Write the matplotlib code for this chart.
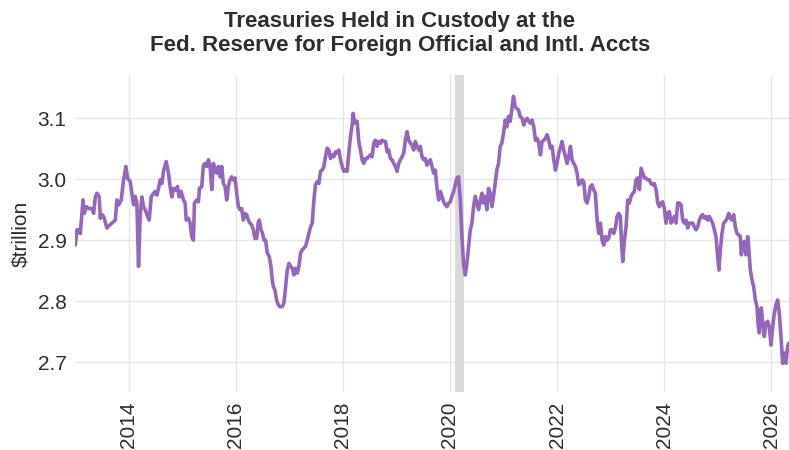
import matplotlib
matplotlib.use("Agg")
import matplotlib.pyplot as plt
import numpy as np

plt.rcParams['font.family'] = ['Liberation Sans', 'DejaVu Sans']

# Decimal-year dates and values ($ trillion)
years = [
    2013.006, 2013.037, 2013.068, 2013.099, 2013.130, 2013.149, 2013.174, 2013.211, 2013.255, 2013.317,
    2013.348, 2013.379, 2013.410, 2013.453, 2013.472, 2013.503, 2013.534, 2013.596, 2013.627, 2013.689,
    2013.752, 2013.783, 2013.814, 2013.863, 2013.907, 2013.950, 2013.981, 2014.031, 2014.062, 2014.093,
    2014.124, 2014.155, 2014.186, 2014.217, 2014.248, 2014.280, 2014.311, 2014.354, 2014.385, 2014.422,
    2014.466, 2014.497, 2014.528, 2014.559, 2014.590, 2014.621, 2014.652, 2014.702, 2014.745, 2014.776,
    2014.807, 2014.839, 2014.882, 2014.913, 2014.944, 2014.981, 2015.025, 2015.056, 2015.075, 2015.118,
    2015.149, 2015.180, 2015.211, 2015.230, 2015.273, 2015.304, 2015.323, 2015.366, 2015.398, 2015.429,
    2015.460, 2015.491, 2015.522, 2015.553, 2015.584, 2015.615, 2015.646, 2015.677, 2015.708, 2015.739,
    2015.770, 2015.801, 2015.832, 2015.863, 2015.894, 2015.925, 2015.957, 2015.988, 2016.019, 2016.050,
    2016.081, 2016.112, 2016.143, 2016.174, 2016.205, 2016.236, 2016.267, 2016.298, 2016.329, 2016.360,
    2016.391, 2016.422, 2016.441, 2016.472, 2016.503, 2016.528, 2016.559, 2016.590, 2016.627, 2016.658,
    2016.683, 2016.702, 2016.733, 2016.764, 2016.795, 2016.826, 2016.870, 2016.901, 2016.932, 2016.963,
    2016.994, 2017.025, 2017.056, 2017.087, 2017.118, 2017.149, 2017.180, 2017.211, 2017.242, 2017.273,
    2017.304, 2017.335, 2017.366, 2017.398, 2017.429, 2017.460, 2017.491, 2017.522, 2017.553, 2017.584,
    2017.615, 2017.646, 2017.677, 2017.708, 2017.739, 2017.770, 2017.801, 2017.832, 2017.863, 2017.894,
    2017.925, 2017.957, 2017.988, 2018.019, 2018.050, 2018.081, 2018.112, 2018.143, 2018.174, 2018.193,
    2018.217, 2018.242, 2018.267, 2018.298, 2018.329, 2018.360, 2018.391, 2018.422, 2018.453, 2018.484,
    2018.516, 2018.547, 2018.578, 2018.609, 2018.640, 2018.671, 2018.702, 2018.733, 2018.764, 2018.795,
    2018.826, 2018.857, 2018.888, 2018.919, 2018.950, 2018.981, 2019.012, 2019.043, 2019.075, 2019.106,
    2019.137, 2019.168, 2019.199, 2019.230, 2019.261, 2019.292, 2019.323, 2019.354, 2019.385, 2019.416,
    2019.447, 2019.478, 2019.509, 2019.540, 2019.571, 2019.602, 2019.634, 2019.665, 2019.696, 2019.727,
    2019.758, 2019.789, 2019.820, 2019.851, 2019.882, 2019.913, 2019.944, 2019.975, 2020.006, 2020.037,
    2020.068, 2020.099, 2020.130, 2020.161, 2020.193, 2020.224, 2020.255, 2020.286, 2020.317, 2020.348,
    2020.379, 2020.410, 2020.441, 2020.472, 2020.503, 2020.534, 2020.565, 2020.596, 2020.627, 2020.658,
    2020.689, 2020.720, 2020.752, 2020.783, 2020.814, 2020.845, 2020.876, 2020.907, 2020.938, 2020.969,
    2021.000, 2021.031, 2021.062, 2021.093, 2021.124, 2021.155, 2021.186, 2021.217, 2021.248, 2021.280,
    2021.311, 2021.347, 2021.378, 2021.409, 2021.440, 2021.471, 2021.502, 2021.533, 2021.565, 2021.596,
    2021.627, 2021.658, 2021.689, 2021.720, 2021.751, 2021.782, 2021.813, 2021.844, 2021.876, 2021.907,
    2021.938, 2021.969, 2022.000, 2022.031, 2022.062, 2022.093, 2022.124, 2022.156, 2022.187, 2022.218,
    2022.249, 2022.280, 2022.311, 2022.342, 2022.373, 2022.404, 2022.435, 2022.467, 2022.498, 2022.529,
    2022.560, 2022.591, 2022.622, 2022.653, 2022.684, 2022.715, 2022.747, 2022.778, 2022.809, 2022.840,
    2022.871, 2022.902, 2022.933, 2022.964, 2022.995, 2023.026, 2023.058, 2023.089, 2023.120, 2023.151,
    2023.182, 2023.201, 2023.226, 2023.257, 2023.288, 2023.319, 2023.350, 2023.381, 2023.412, 2023.443,
    2023.474, 2023.505, 2023.537, 2023.568, 2023.599, 2023.630, 2023.661, 2023.692, 2023.723, 2023.754,
    2023.785, 2023.816, 2023.848, 2023.879, 2023.910, 2023.941, 2023.972, 2024.003, 2024.034, 2024.065,
    2024.096, 2024.128, 2024.159, 2024.190, 2024.221, 2024.252, 2024.283, 2024.314, 2024.345, 2024.376,
    2024.407, 2024.439, 2024.470, 2024.501, 2024.532, 2024.563, 2024.594, 2024.625, 2024.656, 2024.687,
    2024.718, 2024.750, 2024.781, 2024.812, 2024.843, 2024.874, 2024.905, 2024.936, 2024.967, 2024.998,
    2025.023, 2025.048, 2025.079, 2025.110, 2025.142, 2025.173, 2025.204, 2025.235, 2025.266, 2025.297,
    2025.328, 2025.359, 2025.390, 2025.421, 2025.440, 2025.465, 2025.496, 2025.527, 2025.558, 2025.577,
    2025.608, 2025.639, 2025.670, 2025.701, 2025.733, 2025.751, 2025.776, 2025.795, 2025.813, 2025.838,
    2025.869, 2025.900, 2025.931, 2025.962, 2025.994, 2026.025, 2026.056, 2026.087, 2026.118, 2026.149,
    2026.180, 2026.211, 2026.242, 2026.274, 2026.305, 2026.323,
]

holdings = [
    2.892, 2.917, 2.917, 2.911, 2.944, 2.966, 2.944, 2.955, 2.952, 2.952,
    2.944, 2.971, 2.977, 2.971, 2.936, 2.942, 2.939, 2.920, 2.923, 2.928,
    2.933, 2.966, 2.958, 2.966, 2.999, 3.021, 3.002, 2.996, 2.977, 2.958,
    2.972, 2.961, 2.857, 2.939, 2.971, 2.955, 2.950, 2.939, 2.933, 2.971,
    2.977, 2.980, 2.974, 2.985, 2.999, 2.993, 3.013, 3.029, 3.010, 2.988,
    2.971, 2.985, 2.982, 2.988, 2.971, 2.980, 2.966, 2.961, 2.933, 2.936,
    2.928, 2.906, 2.900, 2.961, 2.966, 2.963, 2.985, 2.988, 3.023, 3.026,
    3.021, 3.032, 3.021, 2.983, 3.026, 3.015, 3.010, 3.021, 3.004, 3.021,
    2.993, 2.988, 2.966, 2.988, 2.999, 3.004, 2.999, 3.002, 2.977, 2.955,
    2.950, 2.952, 2.933, 2.944, 2.942, 2.933, 2.928, 2.925, 2.917, 2.903,
    2.903, 2.930, 2.933, 2.917, 2.911, 2.900, 2.900, 2.879, 2.873, 2.857,
    2.835, 2.824, 2.818, 2.802, 2.794, 2.791, 2.791, 2.797, 2.824, 2.851,
    2.862, 2.857, 2.854, 2.843, 2.854, 2.846, 2.857, 2.879, 2.884, 2.887,
    2.890, 2.900, 2.911, 2.922, 2.928, 2.966, 2.991, 2.996, 2.993, 3.013,
    3.015, 3.021, 3.037, 3.051, 3.048, 3.034, 3.040, 3.037, 3.045, 3.043,
    3.048, 3.032, 3.021, 3.013, 3.015, 3.013, 3.043, 3.070, 3.089, 3.108,
    3.092, 3.095, 3.095, 3.062, 3.048, 3.032, 3.026, 3.034, 3.034, 3.037,
    3.040, 3.037, 3.059, 3.064, 3.054, 3.062, 3.059, 3.064, 3.062, 3.062,
    3.045, 3.048, 3.034, 3.032, 3.026, 3.021, 3.013, 3.026, 3.032, 3.037,
    3.043, 3.064, 3.078, 3.064, 3.059, 3.056, 3.048, 3.062, 3.054, 3.048,
    3.054, 3.037, 3.032, 3.034, 3.023, 3.029, 3.032, 3.021, 3.010, 3.015,
    2.985, 2.966, 2.980, 2.972, 2.963, 2.958, 2.955, 2.961, 2.963, 2.972,
    2.980, 2.991, 3.002, 3.004, 2.966, 2.906, 2.860, 2.843, 2.862, 2.890,
    2.917, 2.928, 2.955, 2.972, 2.961, 2.950, 2.963, 2.977, 2.961, 2.972,
    2.950, 2.985, 2.977, 2.955, 2.972, 2.993, 3.015, 3.026, 3.054, 3.059,
    3.075, 3.097, 3.086, 3.103, 3.095, 3.114, 3.136, 3.119, 3.116, 3.114,
    3.103, 3.100, 3.089, 3.097, 3.100, 3.095, 3.092, 3.097, 3.086, 3.064,
    3.067, 3.059, 3.040, 3.062, 3.064, 3.067, 3.073, 3.064, 3.051, 3.054,
    3.032, 3.015, 3.026, 3.043, 3.051, 3.062, 3.048, 3.037, 3.026, 3.037,
    3.054, 3.032, 3.026, 3.021, 3.010, 2.991, 2.993, 2.999, 2.996, 2.966,
    2.961, 2.972, 2.988, 2.991, 2.983, 2.977, 2.933, 2.911, 2.928, 2.900,
    2.892, 2.906, 2.900, 2.903, 2.917, 2.917, 2.911, 2.920, 2.939, 2.944,
    2.939, 2.900, 2.865, 2.900, 2.922, 2.966, 2.961, 2.972, 2.977, 2.980,
    2.999, 3.002, 2.983, 3.018, 3.010, 3.002, 3.002, 2.999, 2.999, 2.993,
    2.991, 2.993, 2.983, 2.961, 2.955, 2.961, 2.963, 2.952, 2.928, 2.944,
    2.947, 2.928, 2.933, 2.939, 2.928, 2.961, 2.961, 2.958, 2.933, 2.928,
    2.933, 2.920, 2.928, 2.928, 2.928, 2.922, 2.917, 2.922, 2.933, 2.939,
    2.942, 2.936, 2.939, 2.933, 2.939, 2.933, 2.928, 2.917, 2.906, 2.873,
    2.851, 2.884, 2.911, 2.928, 2.931, 2.936, 2.944, 2.936, 2.933, 2.942,
    2.922, 2.911, 2.909, 2.906, 2.876, 2.890, 2.898, 2.876, 2.906, 2.890,
    2.851, 2.835, 2.824, 2.802, 2.791, 2.764, 2.748, 2.780, 2.789, 2.764,
    2.742, 2.764, 2.767, 2.758, 2.728, 2.758, 2.780, 2.794, 2.802, 2.780,
    2.742, 2.698, 2.715, 2.698, 2.726, 2.731,
]

recession_start = 2020.09
recession_end = 2020.26

year_ticks = [2014, 2016, 2018, 2020, 2022, 2024, 2026]
value_ticks = [2.7, 2.8, 2.9, 3.0, 3.1]

title = "Treasuries Held in Custody at the\nFed. Reserve for Foreign Official and Intl. Accts"
ylabel = "\\$trillion"

text_color = "#2e2e2e"

fig = plt.figure(figsize=(7.89, 4.5), dpi=100)
ax = fig.add_axes([75 / 789, 1 - 392 / 450, 714 / 789, (392 - 75) / 450])

ax.axvspan(recession_start, recession_end, color="#d9d9d9", lw=0, zorder=1)
ax.plot(years, holdings, color="#9467bd", lw=2.6, zorder=3,
        solid_joinstyle="round", solid_capstyle="round")

ax.set_xlim(2013.0, 2026.33)
ax.set_ylim(2.651, 3.171)
ax.set_xticks(year_ticks)
ax.set_xticklabels([str(y) for y in year_ticks], rotation=90)
ax.set_yticks(value_ticks)
ax.set_yticklabels([f"{v:.1f}" for v in value_ticks])

ax.grid(True, color="#e6e6e6", lw=1.0, zorder=0)
ax.set_axisbelow(True)
for s in ax.spines.values():
    s.set_visible(False)
ax.tick_params(axis="both", length=0, labelsize=15, colors=text_color)
ax.tick_params(axis="y", pad=6)
ax.tick_params(axis="x", pad=7)

ax.set_ylabel(ylabel, fontsize=15, color=text_color, labelpad=5)

fig.text(0.507, 0.975, title, ha="center", va="top", fontsize=16,
         fontweight="bold", color=text_color, linespacing=1.15)

fig.savefig("out.png", dpi=100)
